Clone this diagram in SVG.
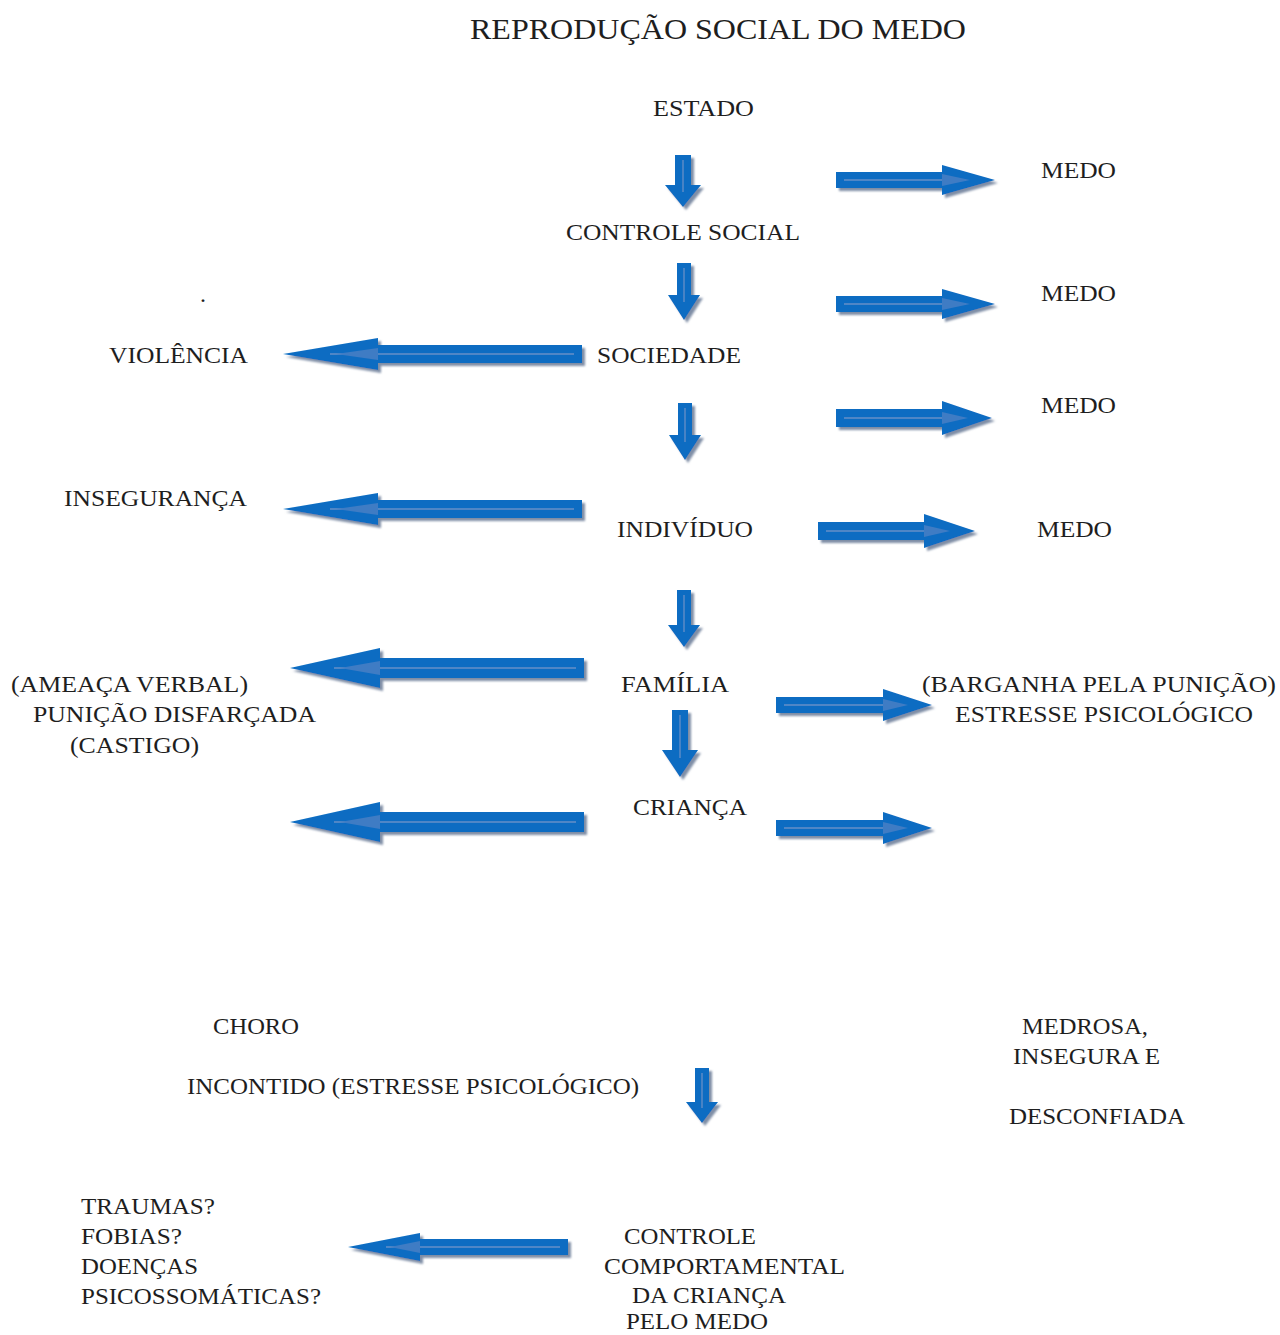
<svg xmlns="http://www.w3.org/2000/svg" width="1280" height="1335" viewBox="0 0 1280 1335">
<style>
text{font-family:"Liberation Serif","Times New Roman",serif;fill:#1e1e1e;font-size:24px}
.title{font-size:30px}
.arrow{fill:#0a6cc2;filter:url(#sh)}
.inner{stroke:#4f86c6;stroke-width:1.8;fill:none}
.tri{fill:#3f7cc4}
</style>
<defs>
<filter id="sh" x="-50%" y="-50%" width="200%" height="200%">
<feGaussianBlur in="SourceAlpha" stdDeviation="1.2"/>
<feOffset dx="2.5" dy="3" result="o"/>
<feFlood flood-color="#7f8ea6"/>
<feComposite in2="o" operator="in"/>
<feMerge><feMergeNode/><feMergeNode in="SourceGraphic"/></feMerge>
</filter>
</defs>
<rect width="1280" height="1335" fill="#fff"/>

<g id="title"><text class="title" x="470" y="39" textLength="496" lengthAdjust="spacingAndGlyphs">REPRODUÇÃO SOCIAL DO MEDO</text></g>

<g id="connectors">
<path class="arrow" d="M836,172 L942,172 L942,165 L995,180 L942,195 L942,188 L836,188 Z"/>
<path class="inner" d="M844,180 H966"/><polygon class="tri" points="942,174 970,180 942,186"/>
<path class="arrow" d="M836,296 L942,296 L942,289 L995,304 L942,319 L942,312 L836,312 Z"/>
<path class="inner" d="M844,304 H966"/><polygon class="tri" points="942,298 970,304 942,310"/>
<path class="arrow" d="M836,409 L942,409 L942,401 L992,418 L942,435 L942,427 L836,427 Z"/>
<path class="inner" d="M844,418 H964"/><polygon class="tri" points="942,412 968,418 942,424"/>
<path class="arrow" d="M818,522 L924,522 L924,514 L975,531 L924,548 L924,540 L818,540 Z"/>
<path class="inner" d="M826,531 H946"/><polygon class="tri" points="924,525 950,531 924,537"/>
<path class="arrow" d="M776,697 L883,697 L883,689 L932,705 L883,721 L883,713 L776,713 Z"/>
<path class="inner" d="M784,705 H904"/><polygon class="tri" points="883,699 908,705 883,711"/>
<path class="arrow" d="M776,820 L883,820 L883,812 L932,828 L883,844 L883,836 L776,836 Z"/>
<path class="inner" d="M784,828 H904"/><polygon class="tri" points="883,822 908,828 883,834"/>
<path class="arrow" d="M582,345 L378,345 L378,338 L283,354 L378,370 L378,363 L582,363 Z"/>
<path class="inner" d="M574,354 H330"/><polygon class="tri" points="378,348 336,354 378,360"/>
<path class="arrow" d="M582,500 L378,500 L378,493 L283,509 L378,525 L378,518 L582,518 Z"/>
<path class="inner" d="M574,509 H330"/><polygon class="tri" points="378,503 336,509 378,515"/>
<path class="arrow" d="M584,658 L380,658 L380,648 L290,668 L380,688 L380,678 L584,678 Z"/>
<path class="inner" d="M576,668 H334"/><polygon class="tri" points="380,661 340,668 380,675"/>
<path class="arrow" d="M584,812 L380,812 L380,802 L290,822 L380,842 L380,832 L584,832 Z"/>
<path class="inner" d="M576,822 H334"/><polygon class="tri" points="380,815 340,822 380,829"/>
<path class="arrow" d="M568,1239 L420,1239 L420,1233 L348,1247 L420,1261 L420,1255 L568,1255 Z"/>
<path class="inner" d="M560,1247 H386"/><polygon class="tri" points="420,1241 390,1247 420,1253"/>
<path class="arrow" d="M675,155 L691,155 L691,185 L701,185 L683,207 L665,185 L675,185 Z"/>
<path class="inner" d="M683,160 V192"/>
<path class="arrow" d="M677,263 L691,263 L691,295 L700,295 L684,320 L668,295 L677,295 Z"/>
<path class="inner" d="M684,268 V302"/>
<path class="arrow" d="M678,403 L692,403 L692,435 L701,435 L685,460 L669,435 L678,435 Z"/>
<path class="inner" d="M685,408 V442"/>
<path class="arrow" d="M677,590 L691,590 L691,625 L700,625 L684,647 L668,625 L677,625 Z"/>
<path class="inner" d="M684,595 V632"/>
<path class="arrow" d="M672,710 L688,710 L688,750 L698,750 L680,777 L662,750 L672,750 Z"/>
<path class="inner" d="M680,715 V758"/>
<path class="arrow" d="M695,1068 L709,1068 L709,1102 L718,1102 L702,1123 L686,1102 L695,1102 Z"/>
<path class="inner" d="M702,1073 V1108"/>
</g>

<g id="estado"><text x="653" y="116" textLength="101" lengthAdjust="spacingAndGlyphs">ESTADO</text></g>
<g id="medo1"><text x="1041" y="178" textLength="75" lengthAdjust="spacingAndGlyphs">MEDO</text></g>
<g id="controle-social"><text x="566" y="240" textLength="234" lengthAdjust="spacingAndGlyphs">CONTROLE SOCIAL</text></g>
<g id="medo2"><text x="1041" y="301" textLength="75" lengthAdjust="spacingAndGlyphs">MEDO</text></g>
<g id="dot"><text x="200" y="302">.</text></g>
<g id="violencia"><text x="109" y="363" textLength="139" lengthAdjust="spacingAndGlyphs">VIOLÊNCIA</text></g>
<g id="sociedade"><text x="597" y="363" textLength="144" lengthAdjust="spacingAndGlyphs">SOCIEDADE</text></g>
<g id="medo3"><text x="1041" y="413" textLength="75" lengthAdjust="spacingAndGlyphs">MEDO</text></g>
<g id="inseguranca"><text x="64" y="506" textLength="183" lengthAdjust="spacingAndGlyphs">INSEGURANÇA</text></g>
<g id="individuo"><text x="617" y="537" textLength="136" lengthAdjust="spacingAndGlyphs">INDIVÍDUO</text></g>
<g id="medo4"><text x="1037" y="537" textLength="75" lengthAdjust="spacingAndGlyphs">MEDO</text></g>
<g id="punicao">
<text x="11" y="692" textLength="237" lengthAdjust="spacingAndGlyphs">(AMEAÇA VERBAL)</text>
<text x="33" y="722" textLength="283" lengthAdjust="spacingAndGlyphs">PUNIÇÃO DISFARÇADA</text>
<text x="70" y="753" textLength="129" lengthAdjust="spacingAndGlyphs">(CASTIGO)</text>
</g>
<g id="familia"><text x="621" y="692" textLength="108" lengthAdjust="spacingAndGlyphs">FAMÍLIA</text></g>
<g id="barganha">
<text x="922" y="692" textLength="354" lengthAdjust="spacingAndGlyphs">(BARGANHA PELA PUNIÇÃO)</text>
<text x="955" y="722" textLength="298" lengthAdjust="spacingAndGlyphs">ESTRESSE PSICOLÓGICO</text>
</g>
<g id="crianca"><text x="633" y="815" textLength="114" lengthAdjust="spacingAndGlyphs">CRIANÇA</text></g>
<g id="choro">
<text x="213" y="1034" textLength="86" lengthAdjust="spacingAndGlyphs">CHORO</text>
<text x="187" y="1094" textLength="452" lengthAdjust="spacingAndGlyphs">INCONTIDO (ESTRESSE PSICOLÓGICO)</text>
</g>
<g id="medrosa">
<text x="1022" y="1034" textLength="126" lengthAdjust="spacingAndGlyphs">MEDROSA,</text>
<text x="1013" y="1064" textLength="147" lengthAdjust="spacingAndGlyphs">INSEGURA E</text>
<text x="1009" y="1124" textLength="176" lengthAdjust="spacingAndGlyphs">DESCONFIADA</text>
</g>
<g id="traumas">
<text x="81" y="1214" textLength="134" lengthAdjust="spacingAndGlyphs">TRAUMAS?</text>
<text x="81" y="1244" textLength="101" lengthAdjust="spacingAndGlyphs">FOBIAS?</text>
<text x="81" y="1274" textLength="117" lengthAdjust="spacingAndGlyphs">DOENÇAS</text>
<text x="81" y="1304" textLength="240" lengthAdjust="spacingAndGlyphs">PSICOSSOMÁTICAS?</text>
</g>
<g id="controle-comportamental">
<text x="624" y="1244" textLength="132" lengthAdjust="spacingAndGlyphs">CONTROLE</text>
<text x="604" y="1274" textLength="241" lengthAdjust="spacingAndGlyphs">COMPORTAMENTAL</text>
<text x="632" y="1303" textLength="154" lengthAdjust="spacingAndGlyphs">DA CRIANÇA</text>
<text x="626" y="1329" textLength="142" lengthAdjust="spacingAndGlyphs">PELO MEDO</text>
</g>
</svg>
